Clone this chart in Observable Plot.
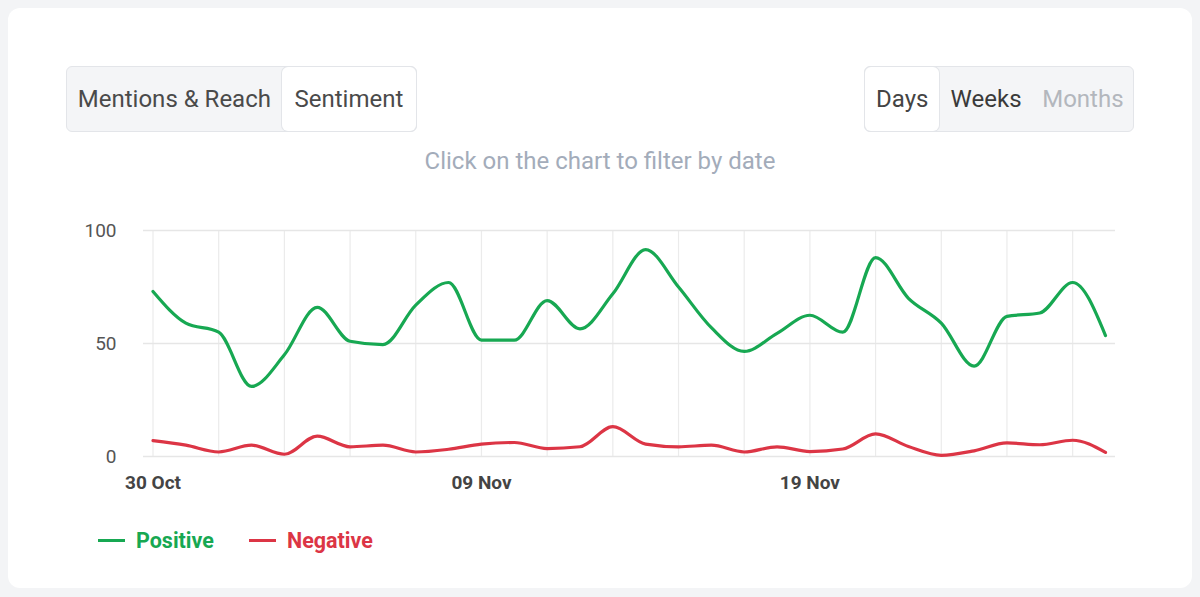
<!DOCTYPE html>
<html>
<head>
<meta charset="utf-8">
<script src="https://cdn.jsdelivr.net/npm/d3@7"></script>
<script src="https://cdn.jsdelivr.net/npm/@observablehq/plot@0.6"></script>
<style>
  html, body { margin: 0; padding: 0; }
  body { font-family: Roboto, "Noto Sans", sans-serif; }
  #page { position: relative; width: 1200px; height: 597px; background: #f3f4f6; overflow: hidden; }
  #card { position: absolute; left: 8px; top: 8px; width: 1184px; height: 580px; background: #fff; border-radius: 12px; }
  .group { position: absolute; top: 66px; height: 66px; box-sizing: border-box; border: 1px solid #e3e5e9; border-radius: 6px; background: #f4f5f7; display: flex; }
  .seg { height: 100%; display: flex; align-items: center; justify-content: center; font-size: 24px; color: #4a4a4a; box-sizing: border-box; }
  .seg.active { background: #fff; border-radius: 6px; box-shadow: 0 0 0 1px #e3e5e9; }
  #subtitle { position: absolute; left: 0; width: 1200px; top: 147px; text-align: center; font-size: 24px; color: #a3acba; line-height: 28px; }
  #chart { position: absolute; left: 0; top: 200px; }
  .legend { position: absolute; top: 526px; height: 28px; display: flex; align-items: center; font-size: 21.5px; font-weight: bold; }
  .legend .sw { width: 27px; height: 3px; margin-right: 11px; }
  svg [aria-label="x-axis tick label"] text { font-weight: bold; }
</style>
</head>
<body>
<div id="page">
  <div id="card"></div>
  <div class="group" style="left:66px;width:351px;">
    <div class="seg" style="width:216px;">Mentions &amp; Reach</div>
    <div class="seg active" style="width:135px;">Sentiment</div>
  </div>
  <div class="group" style="left:864px;width:270px;">
    <div class="seg active" style="width:75px;color:#444;">Days</div>
    <div class="seg" style="width:94px;color:#3a3a3a;">Weeks</div>
    <div class="seg" style="width:101px;color:#b3b7bd;">Months</div>
  </div>
  <div id="subtitle">Click on the chart to filter by date</div>
  <div id="chart"></div>
  <div class="legend" style="left:98px;color:#17a852;"><span class="sw" style="background:#17a852;"></span>Positive</div>
  <div class="legend" style="left:249px;color:#dc3545;"><span class="sw" style="background:#dc3545;"></span>Negative</div>
</div>
<script>
const dates = [
  "2023-10-30","2023-10-31","2023-11-01","2023-11-02","2023-11-03","2023-11-04",
  "2023-11-05","2023-11-06","2023-11-07","2023-11-08","2023-11-09","2023-11-10",
  "2023-11-11","2023-11-12","2023-11-13","2023-11-14","2023-11-15","2023-11-16",
  "2023-11-17","2023-11-18","2023-11-19","2023-11-20","2023-11-21","2023-11-22",
  "2023-11-23","2023-11-24","2023-11-25","2023-11-26","2023-11-27","2023-11-28"
];
const positive = [73, 59, 55, 31, 45, 66, 51, 49.5, 67, 77, 51.5, 51.5, 69, 56.5, 72, 91.5, 75, 57, 46.5, 54.5, 62.5, 55, 88, 70, 59, 40, 62, 63.5, 77, 53.5];
const negative = [7, 5, 2, 5, 1, 9, 4.3, 5, 2, 3.2, 5.5, 6.2, 3.5, 4.3, 13.2, 5.5, 4.3, 5, 2, 4.3, 2.2, 3.3, 10, 4.4, 0.5, 2.5, 6, 5.2, 7.2, 1.8];
const yTicks = [0, 50, 100];
const xTickDates = ["2023-10-30", "2023-11-09", "2023-11-19"];
const seriesNames = ["Positive", "Negative"];
const seriesColors = ["#17a852", "#dc3545"];

const parse = d3.utcParse("%Y-%m-%d");
const rows = [];
dates.forEach((d, i) => {
  rows.push({date: parse(d), value: positive[i], series: seriesNames[0]});
  rows.push({date: parse(d), value: negative[i], series: seriesNames[1]});
});
const gridDates = dates.filter((d, i) => i % 2 === 0).map(parse);

const chart = Plot.plot({
  width: 1200,
  height: 300,
  marginTop: 30,
  marginBottom: 44,
  marginLeft: 143,
  marginRight: 85,
  style: {fontFamily: "Roboto, sans-serif", fontSize: "19px", background: "transparent", color: "#555"},
  x: {type: "utc", domain: [parse(dates[0]), parse(dates[dates.length - 1])], insetLeft: 9.5, insetRight: 10, label: null},
  y: {domain: [0, 100], label: null},
  color: {domain: seriesNames, range: seriesColors},
  marks: [
    Plot.ruleX(gridDates, {stroke: "#ebebeb", strokeWidth: 1.2}),
    Plot.ruleY(yTicks, {stroke: "#e6e6e6", strokeWidth: 1.5}),
    Plot.axisY({ticks: yTicks, tickSize: 0, tickPadding: 27, fill: "#555", fontSize: 19, label: null}),
    Plot.axisX({ticks: xTickDates.map(parse), tickFormat: d3.utcFormat("%d %b"), tickSize: 0, tickPadding: 19, fill: "#444", fontSize: 19, fontWeight: "bold", label: null}),
    Plot.line(rows, {x: "date", y: "value", z: "series", stroke: "series", strokeWidth: 3.2, curve: "monotone-x"})
  ]
});
document.getElementById("chart").appendChild(chart);
</script>
</body>
</html>
